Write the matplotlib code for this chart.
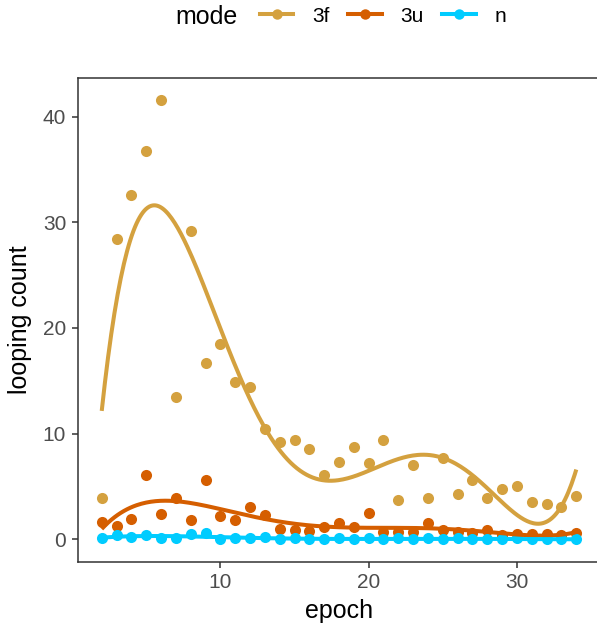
import numpy as np
import matplotlib
matplotlib.use("Agg")
import matplotlib.pyplot as plt
from matplotlib.lines import Line2D

plt.rcParams['font.family'] = ['Liberation Sans', 'DejaVu Sans']

epoch = list(range(2, 35))
count_3f = [3.9, 28.4, 32.6, 36.7, 41.6, 13.5, 29.2, 16.7, 18.5, 14.9, 14.4, 10.4,
            9.2, 9.4, 8.5, 6.1, 7.3, 8.7, 7.2, 9.4, 3.7, 7.0, 3.9, 7.7, 4.3, 5.6,
            3.9, 4.8, 5.0, 3.5, 3.3, 3.1, 4.1]
count_3u = [1.6, 1.3, 1.9, 6.1, 2.4, 3.9, 1.8, 5.6, 2.2, 1.8, 3.1, 2.3, 1.0, 0.9,
            0.8, 1.2, 1.5, 1.2, 2.5, 0.7, 0.7, 0.7, 1.5, 0.9, 0.7, 0.6, 0.9, 0.4,
            0.5, 0.5, 0.5, 0.4, 0.6]
count_n = [0.1, 0.4, 0.2, 0.4, 0.1, 0.1, 0.5, 0.6, 0.0, 0.1, 0.1, 0.2, 0.0, 0.1,
           0.0, 0.0, 0.1, 0.0, 0.1, 0.0, 0.1, 0.0, 0.1, 0.0, 0.1, 0.0, 0.0, 0.0,
           0.1, 0.0, 0.0, 0.0, 0.0]

modes = ['3f', '3u', 'n']
colors = {'3f': '#D4A13F', '3u': '#D55E00', 'n': '#00CCFF'}
series = {'3f': count_3f, '3u': count_3u, 'n': count_n}

fig = plt.figure(figsize=(5.97, 6.26), dpi=100)
ax = fig.add_axes([78 / 597, 64.5 / 626, 522 / 597, 484 / 626])

x = np.array(epoch, dtype=float)
xs = np.linspace(x.min(), x.max(), 300)

for m in modes:
    ax.scatter(x, series[m], s=64, color=colors[m], linewidths=0, zorder=2)

for m in modes:
    # polynomial smooth, like geom_smooth(method = "lm", formula = y ~ poly(x, 5))
    coef = np.polyfit(x, series[m], 5)
    ax.plot(xs, np.polyval(coef, xs), color=colors[m], lw=2.9, zorder=3,
            solid_capstyle='butt')

ax.set_xlim(0.4, 35.6)
ax.set_ylim(-2.1, 43.7)
ax.set_xticks([10, 20, 30])
ax.set_yticks([0, 10, 20, 30, 40])

for s in ax.spines.values():
    s.set_color('#333333')
    s.set_linewidth(1.1)
ax.tick_params(direction='out', length=4, width=1.1, color='#333333',
               labelcolor='#4D4D4D', labelsize=15, pad=4.5)

ax.set_xlabel('epoch', fontsize=18, labelpad=5)
ax.set_ylabel('looping count', fontsize=18, labelpad=8)

handles = [Line2D([0], [0], color=colors[m], lw=2.9, marker='o', ms=7.5,
                  markeredgewidth=0) for m in modes]
fig.text(175 / 597, 1 - 17 / 626, 'mode', fontsize=18, ha='left', va='center')
fig.legend(handles, modes, loc='center left', bbox_to_anchor=(260 / 597, 1 - 16 / 626),
           ncol=3, frameon=False, fontsize=15, handlelength=1.6,
           handletextpad=0.9, columnspacing=0.9, borderpad=0, borderaxespad=0)

fig.savefig('out.png', dpi=100)
